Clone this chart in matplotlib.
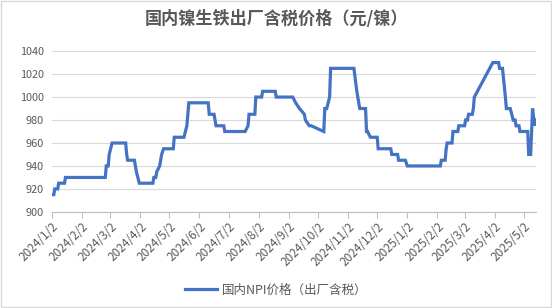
import pandas as pd
import matplotlib
matplotlib.use("Agg")
import matplotlib.pyplot as plt
from matplotlib.patches import Rectangle

plt.rcParams["font.family"] = ["Noto Sans CJK SC", "DejaVu Sans"]

# price change points (date, yuan per nickel point)
dates = [
    "2024-01-02", "2024-01-04", "2024-01-05", "2024-01-08", "2024-01-09", "2024-01-15",
    "2024-01-16", "2024-02-26", "2024-02-27", "2024-02-29", "2024-03-01", "2024-03-04",
    "2024-03-18", "2024-03-19", "2024-03-20", "2024-03-27", "2024-03-28", "2024-03-29",
    "2024-04-01", "2024-04-15", "2024-04-16", "2024-04-18", "2024-04-19", "2024-04-22",
    "2024-04-24", "2024-04-26", "2024-05-06", "2024-05-07", "2024-05-17", "2024-05-20",
    "2024-05-21", "2024-05-22", "2024-06-11", "2024-06-12", "2024-06-17", "2024-06-18",
    "2024-06-19", "2024-06-27", "2024-06-28", "2024-07-19", "2024-07-22", "2024-07-23",
    "2024-07-29", "2024-07-30", "2024-08-05", "2024-08-06", "2024-08-19", "2024-08-20",
    "2024-09-06", "2024-09-09", "2024-09-13", "2024-09-18", "2024-09-19", "2024-09-23",
    "2024-09-25", "2024-10-08", "2024-10-09", "2024-10-11", "2024-10-14", "2024-10-15",
    "2024-11-08", "2024-11-11", "2024-11-13", "2024-11-14", "2024-11-20", "2024-11-21",
    "2024-11-22", "2024-11-25", "2024-12-02", "2024-12-03", "2024-12-16", "2024-12-17",
    "2024-12-23", "2024-12-24", "2024-12-31", "2025-01-02", "2025-02-05", "2025-02-06",
    "2025-02-10", "2025-02-11", "2025-02-12", "2025-02-17", "2025-02-18", "2025-02-23",
    "2025-02-24", "2025-03-02", "2025-03-03", "2025-03-05", "2025-03-06", "2025-03-10",
    "2025-03-11", "2025-03-12", "2025-03-31", "2025-04-06", "2025-04-07", "2025-04-10",
    "2025-04-13", "2025-04-14", "2025-04-18", "2025-04-21", "2025-04-23", "2025-04-24",
    "2025-04-27", "2025-04-28", "2025-05-06", "2025-05-07", "2025-05-09", "2025-05-11",
    "2025-05-13", "2025-05-14",
]
prices = [
    915, 915, 920, 920, 925, 925,
    930, 930, 940, 940, 950, 960,
    960, 950, 945, 945, 940, 935,
    925, 925, 930, 930, 935, 940,
    950, 955, 955, 965, 965, 975,
    985, 995, 995, 985, 985, 980,
    975, 975, 970, 970, 975, 985,
    985, 1000, 1000, 1005, 1005, 1000,
    1000, 995, 990, 985, 980, 975,
    975, 970, 990, 990, 1000, 1025,
    1025, 1005, 995, 990, 990, 970,
    970, 965, 965, 955, 955, 950,
    950, 945, 945, 940, 940, 945,
    945, 955, 960, 960, 970, 970,
    975, 975, 980, 980, 985, 985,
    990, 1000, 1030, 1030, 1025, 1025,
    1000, 990, 990, 980, 980, 975,
    975, 970, 970, 950, 950, 990,
    975, 980,
]
tick_dates = pd.date_range("2024-01-01", "2025-05-01", freq="MS") + pd.Timedelta(days=1)
tick_labels = [f"{d.year}/{d.month}/{d.day}" for d in tick_dates]
y_ticks = list(range(900, 1041, 20))

x = pd.to_datetime(dates)

fig = plt.figure(figsize=(5.52, 3.08), dpi=100, facecolor="white")
ax = fig.add_axes([0.094, 0.312, 0.877, 0.522])

ax.plot(x, prices, color="#4472C4", linewidth=2.3, solid_joinstyle="miter",
        label="国内NPI价格（出厂含税）")

ax.set_ylim(900, 1040)
ax.set_xlim(x[0], x[-1] + pd.Timedelta(hours=12))
ax.set_yticks(y_ticks)
ax.set_yticklabels([str(v) for v in y_ticks])
ax.set_xticks(tick_dates)
ax.set_xticklabels(tick_labels, rotation=45, ha="right", rotation_mode="anchor")

ax.grid(True, axis="y", color="#D9D9D9", linewidth=0.8)
ax.set_axisbelow(True)
for side in ["left", "right", "top"]:
    ax.spines[side].set_visible(False)
ax.spines["bottom"].set_color("#BFBFBF")
ax.spines["bottom"].set_linewidth(0.8)
ax.tick_params(axis="y", length=0, labelsize=7.8, colors="#595959", pad=6)
ax.tick_params(axis="x", length=4, width=0.8, color="#BFBFBF", labelsize=8.5,
               labelcolor="#595959", pad=2)

fig.text(0.5, 0.94, "国内镍生铁出厂含税价格（元/镍）", ha="center", va="center",
         fontsize=12.3, fontweight="bold", color="#595959")

fig.legend(loc="center", bbox_to_anchor=(0.5, 0.058), frameon=False, fontsize=9,
           handlelength=2.6, handletextpad=0.4, labelcolor="#595959")

fig.patches.append(Rectangle((0.001, 0.002), 0.997, 0.995, transform=fig.transFigure,
                             fill=False, edgecolor="#D9D9D9", linewidth=1))

plt.savefig("out.png", dpi=100, facecolor="white")
plt.close()
